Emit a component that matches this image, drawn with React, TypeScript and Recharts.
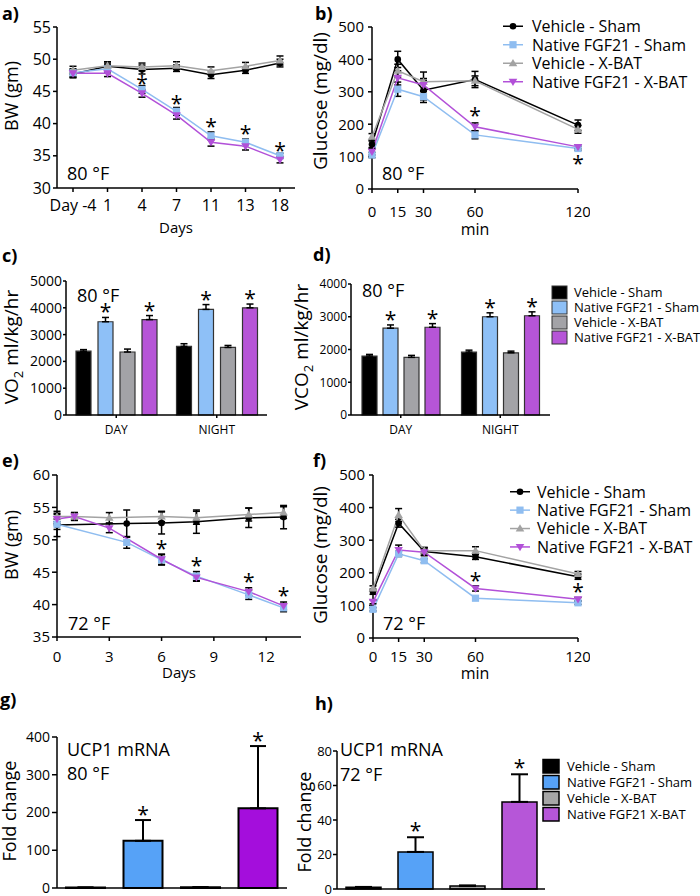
import {
  LineChart,
  Line,
  BarChart,
  Bar,
  Cell,
  XAxis,
  YAxis,
  ErrorBar,
  ReferenceDot,
  LabelList,
} from "recharts";

const FONT = '"Open Sans", sans-serif';
const INK = "#000";
const AX = { stroke: INK, strokeWidth: 1.5 };
const STAR_FS = 21;
const STAR_DY = 12;

const GROUPS = ["Vehicle - Sham", "Native FGF21 - Sham", "Vehicle - X-BAT", "Native FGF21 - X-BAT"];
const GROUPS_H = ["Vehicle - Sham", "Native FGF21 - Sham", "Vehicle - X-BAT", "Native FGF21 X-BAT"];
const KEYS = ["vs", "fs", "vx", "fx"];
const SHAPES = ["circle", "square", "triangle", "triangleDown"];
const LINE_COLORS = ["#000000", "#8fbdf0", "#a3a3a3", "#b250d8"];
const BAR_COLORS_CD = ["#000000", "#8ec0f7", "#a3a3a7", "#b655d7"];
const BAR_COLORS_G = ["#000000", "#56a2f7", "#a6a6a6", "#a40edc"];
const BAR_COLORS_H = ["#000000", "#56a2f7", "#a6a6a6", "#b656d8"];

// a) body weight, 80 °F
const daysA = ["Day -4", "1", "4", "7", "11", "13", "18"];
const bwA = [
  [47.7, 48.9, 48.4, 48.6, 47.6, 48.3, 49.4],
  [47.9, 48.5, 45.3, 41.9, 38.1, 37.1, 35.0],
  [48.3, 49.0, 48.8, 49.0, 48.2, 48.9, 49.8],
  [47.8, 47.8, 44.7, 41.3, 37.1, 36.5, 34.4],
];
const bwASem = [
  [0.6, 0.5, 0.7, 0.5, 0.6, 0.5, 0.6],
  [0.6, 0.6, 0.6, 0.6, 0.6, 0.5, 0.4],
  [0.6, 0.6, 0.6, 0.6, 0.6, 0.6, 0.7],
  [0.6, 0.5, 0.6, 0.6, 0.6, 0.6, 0.5],
];
const starsA = [
  { x: "4", y: 46.9 },
  { x: "7", y: 43.8 },
  { x: "11", y: 40.3 },
  { x: "13", y: 39.2 },
  { x: "18", y: 36.5 },
];

// b) glucose tolerance, 80 °F
const minutes = [0, 15, 30, 60, 120];
const glucB = [
  [138, 400, 305, 338, 197],
  [105, 308, 285, 167, 125],
  [161, 365, 331, 334, 184],
  [115, 343, 321, 192, 130],
];
const glucBSem = [
  [10, 25, 30, 25, 16],
  [8, 22, 18, 12, 6],
  [10, 20, 30, 15, 12],
  [10, 22, 20, 12, 6],
];
const starsB = [
  { x: 60, y: 241 },
  { x: 120, y: 93 },
];

// c) VO2 and d) VCO2, 80 °F
const periods = ["DAY", "NIGHT"];
const vo2 = [
  [2380, 2560],
  [3480, 3940],
  [2350, 2520],
  [3560, 4000],
];
const vo2Sem = [
  [60, 100],
  [160, 180],
  [110, 75],
  [150, 140],
];
const vco2 = [
  [1800, 1920],
  [2650, 3000],
  [1760, 1900],
  [2680, 3030],
];
const vco2Sem = [
  [50, 60],
  [100, 120],
  [60, 50],
  [110, 120],
];
const sigCD = [false, true, false, true];

// e) body weight, 72 °F
const daysE = [0, 1, 3, 4, 6, 8, 11, 13];
const bwE = [
  [52.3, null, null, 52.5, 52.6, 52.8, 53.4, 53.5],
  [52.4, null, null, 49.6, 46.9, 44.4, 41.5, 39.5],
  [53.6, 53.6, 53.4, null, 53.6, 53.4, 53.9, 54.2],
  [53.2, 53.6, 51.8, null, 47.0, 44.2, 42.0, 39.8],
];
const bwESem = [
  [1.8, null, null, 2.1, 1.7, 1.8, 1.5, 1.8],
  [0.8, null, null, 0.9, 0.8, 0.7, 0.7, 0.6],
  [0.8, 0.6, 0.8, null, 0.8, 1.0, 1.0, 0.9],
  [0.7, 0.6, 0.7, null, 0.8, 0.6, 0.6, 0.6],
];
const starsE = [
  { x: 6, y: 49.35 },
  { x: 8, y: 46.7 },
  { x: 11, y: 44.2 },
  { x: 13, y: 42.1 },
];

// f) glucose tolerance, 72 °F
const glucF = [
  [142, 352, 265, 249, 188],
  [88, 258, 237, 122, 108],
  [152, 377, 268, 268, 196],
  [111, 270, 263, 152, 119],
];
const glucFSem = [
  [8, 12, 12, 8, 8],
  [5, 8, 6, 6, 5],
  [8, 20, 10, 12, 8],
  [6, 15, 10, 8, 5],
];
const starsF = [
  { x: 60, y: 190 },
  { x: 120, y: 155 },
];

// g) h) UCP1 mRNA fold change
const ucp80 = [1, 125, 2, 211];
const ucp80Sem = [0.5, 55, 0.5, 165];
const ucp72 = [1.0, 21.5, 1.7, 50.5];
const ucp72Sem = [0.2, 8.5, 0.4, 16];
const sigGH = [false, true, false, true];

function lineRows(xKey: string, xs: any[], means: any[][], sems: any[][]) {
  return xs.map((x, i) => {
    const row: any = { [xKey]: x };
    KEYS.forEach((k, s) => {
      row[k] = means[s][i];
      row[k + "E"] = sems[s][i];
    });
    return row;
  });
}

function barRows(xKey: string, xs: any[], means: number[][], sems: number[][]) {
  return xs.map((x, i) => {
    const row: any = { [xKey]: x };
    KEYS.forEach((k, s) => {
      row[k] = means[s][i];
      row[k + "E"] = [0, sems[s][i]];
    });
    return row;
  });
}

const dataA = lineRows("day", daysA, bwA, bwASem);
const dataB = lineRows("t", minutes, glucB, glucBSem);
const dataC = barRows("period", periods, vo2, vo2Sem);
const dataD = barRows("period", periods, vco2, vco2Sem);
const dataE = lineRows("day", daysE, bwE, bwESem);
const dataF = lineRows("t", minutes, glucF, glucFSem);
const dataG = GROUPS.map((g, i) => ({ group: g, v: ucp80[i], e: [0, ucp80Sem[i]] }));
const dataH = GROUPS_H.map((g, i) => ({ group: g, v: ucp72[i], e: [0, ucp72Sem[i]] }));

function Marker({ shape, cx, cy, color }: any) {
  if (cx == null || cy == null || Number.isNaN(cy)) return null;
  if (shape === "circle") return <circle cx={cx} cy={cy} r={3.3} fill={color} />;
  if (shape === "square") return <rect x={cx - 3.6} y={cy - 3.6} width={7.2} height={7.2} fill={color} />;
  if (shape === "triangle")
    return <path d={`M${cx},${cy - 4.3}L${cx + 4.3},${cy + 3}L${cx - 4.3},${cy + 3}Z`} fill={color} />;
  return <path d={`M${cx},${cy + 4.3}L${cx + 4.3},${cy - 3}L${cx - 4.3},${cy - 3}Z`} fill={color} />;
}

const Star = (p: any) => (
  <text x={p.cx} y={p.cy + STAR_DY} textAnchor="middle" fontSize={STAR_FS} fontFamily={FONT} fill={INK}>
    *
  </text>
);

function renderLines(connectNulls = false) {
  return KEYS.map((k, s) => (
    <Line
      key={k}
      dataKey={k}
      stroke={LINE_COLORS[s]}
      strokeWidth={1.5}
      connectNulls={connectNulls}
      isAnimationActive={false}
      activeDot={false}
      dot={(p: any) => (
        <Marker key={`${k}-${p.index}`} shape={SHAPES[s]} cx={p.cx} cy={p.cy} color={LINE_COLORS[s]} />
      )}
    >
      <ErrorBar dataKey={`${k}E`} width={3.5} stroke={INK} strokeWidth={1.5} direction="y" />
    </Line>
  ));
}

function renderStars(stars: { x: any; y: number }[]) {
  return stars.map((s, i) => (
    <ReferenceDot key={`star-${i}`} x={s.x} y={s.y} r={0} shape={Star} ifOverflow="visible" />
  ));
}

// star sitting above the error bar of a bar
function barStar(means: number[], sems: number[], sig: boolean[], gap: number) {
  return (p: any) => {
    const vb = p.viewBox ?? p;
    const i = p.index ?? means.indexOf(p.value);
    if (i == null || i < 0 || !sig[i] || vb.x == null) return null;
    const h = Math.abs(vb.height);
    const top = Math.min(vb.y, vb.y + vb.height);
    const errTop = top - (sems[i] * h) / means[i];
    return (
      <text
        key={`bs-${i}`}
        x={vb.x + vb.width / 2}
        y={errTop - gap + STAR_DY}
        textAnchor="middle"
        fontSize={STAR_FS}
        fontFamily={FONT}
        fill={INK}
      >
        *
      </text>
    );
  };
}

const tick = (size: number) => ({ fontSize: size, fill: INK, fontFamily: FONT });

function renderBars(data: any[], means: number[][], sems: number[][]) {
  return KEYS.map((k, s) => (
    <Bar
      key={k}
      dataKey={k}
      fill={BAR_COLORS_CD[s]}
      stroke="#333"
      strokeWidth={1.2}
      barSize={15}
      isAnimationActive={false}
    >
      <ErrorBar dataKey={`${k}E`} width={3.5} stroke={INK} strokeWidth={1.5} direction="y" />
      {sigCD[s] && (
        <LabelList dataKey={k} content={barStar(means[s], sems[s], [true, true], 10)} />
      )}
    </Bar>
  ));
}

const T = ({ x, y, size = 18, bold = false, anchor = "start", children }: any) => (
  <text x={x} y={y} fontSize={size} fontWeight={bold ? 700 : 400} textAnchor={anchor}>
    {children}
  </text>
);

const VT = ({ x, y, size = 19, children }: any) => (
  <text transform={`translate(${x},${y}) rotate(-90)`} fontSize={size} textAnchor="middle">
    {children}
  </text>
);

function LineLegend({ x1, x2, tx, y0, step, size }: any) {
  return (
    <g>
      {GROUPS.map((g, i) => {
        const y = y0 + i * step;
        const cy = y - size * 0.36;
        return (
          <g key={g}>
            <line x1={x1} x2={x2} y1={cy} y2={cy} stroke={LINE_COLORS[i]} strokeWidth={1.5} />
            <Marker shape={SHAPES[i]} cx={(x1 + x2) / 2} cy={cy} color={LINE_COLORS[i]} />
            <text x={tx} y={y} fontSize={size}>
              {g}
            </text>
          </g>
        );
      })}
    </g>
  );
}

function BoxLegend({ sx, sw, sh, tx, y0, step, size, names, colors, stroke, sw2 }: any) {
  return (
    <g>
      {names.map((g: string, i: number) => {
        const y = y0 + i * step;
        return (
          <g key={g}>
            <rect x={sx} y={y - sh + 2} width={sw} height={sh} fill={colors[i]} stroke={stroke} strokeWidth={sw2} />
            <text x={tx} y={y} fontSize={size}>
              {g}
            </text>
          </g>
        );
      })}
    </g>
  );
}

function Overlay() {
  return (
    <svg
      width={700}
      height={896}
      style={{ position: "absolute", left: 0, top: 0, pointerEvents: "none" }}
      fontFamily={FONT}
      fill={INK}
    >
      <T x={2} y={19.5} size={18} bold>a)</T>
      <T x={315} y={19.5} size={18} bold>b)</T>
      <T x={2} y={262} size={18} bold>c)</T>
      <T x={313} y={261} size={18} bold>d)</T>
      <T x={2} y={467} size={18} bold>e)</T>
      <T x={313} y={467} size={18} bold>f)</T>
      <T x={0} y={706} size={18} bold>g)</T>
      <T x={315} y={710} size={18} bold>h)</T>

      <VT x={18} y={96} size={18}>BW (gm)</VT>
      <VT x={327} y={101}>Glucose (mg/dl)</VT>
      <VT x={17.5} y={347}>
        <tspan>VO</tspan>
        <tspan dy={5} fontSize={13}>2</tspan>
        <tspan dy={-5}> ml/kg/hr</tspan>
      </VT>
      <VT x={307.5} y={347}>
        <tspan>VCO</tspan>
        <tspan dy={5} fontSize={13}>2</tspan>
        <tspan dy={-5}> ml/kg/hr</tspan>
      </VT>
      <VT x={18} y={545} size={18}>BW (gm)</VT>
      <VT x={327} y={555}>Glucose (mg/dl)</VT>
      <VT x={16} y={811} size={18}>Fold change</VT>
      <VT x={311} y={822} size={18}>Fold change</VT>

      <T x={176} y={233} size={15} anchor="middle">Days</T>
      <T x={475} y={235} size={16} anchor="middle">min</T>
      <T x={179} y={678} size={15} anchor="middle">Days</T>
      <T x={475} y={679} size={16} anchor="middle">min</T>

      <T x={67} y={180}>80 °F</T>
      <T x={382} y={180}>80 °F</T>
      <T x={77} y={302}>80 °F</T>
      <T x={362} y={297}>80 °F</T>
      <T x={68} y={630}>72 °F</T>
      <T x={383} y={630}>72 °F</T>
      <T x={67} y={756}>UCP1 mRNA</T>
      <T x={67} y={780}>80 °F</T>
      <T x={340} y={756}>UCP1 mRNA</T>
      <T x={340} y={781}>72 °F</T>

      <LineLegend x1={503} x2={523} tx={532} y0={32} step={18.5} size={16} />
      <LineLegend x1={510} x2={530} tx={537} y0={497.5} step={18.4} size={16} />
      <BoxLegend
        sx={552} sw={15} sh={13} tx={574} y0={297} step={15} size={13}
        names={GROUPS} colors={BAR_COLORS_CD} stroke="#333" sw2={1}
      />
      <BoxLegend
        sx={543} sw={16} sh={13.5} tx={567} y0={771} step={16} size={13}
        names={GROUPS_H} colors={BAR_COLORS_H} stroke={INK} sw2={1.5}
      />
    </svg>
  );
}

export default function App() {
  return (
    <div
      style={{
        position: "absolute",
        left: 0,
        top: 0,
        width: 700,
        height: 896,
        background: "#fff",
        fontFamily: FONT,
        overflow: "hidden",
      }}
    >
      {/* a) */}
      <div style={{ position: "absolute", left: 0, top: 0 }}>
        <LineChart width={300} height={230} data={dataA} margin={{ top: 27, right: 5, bottom: 0, left: 0 }}>
          <XAxis
            dataKey="day"
            type="category"
            scale="point"
            padding={{ left: 16, right: 15 }}
            height={42}
            axisLine={AX}
            tickLine={AX}
            tickSize={4}
            tickMargin={8}
            interval={0}
            tick={tick(16)}
          />
          <YAxis
            type="number"
            domain={[30, 55]}
            ticks={[30, 35, 40, 45, 50, 55]}
            width={57}
            axisLine={AX}
            tickLine={AX}
            tickSize={4}
            tickMargin={2}
            interval={0}
            tick={tick(16)}
          />
          {renderLines()}
          {renderStars(starsA)}
        </LineChart>
      </div>

      {/* b) */}
      <div style={{ position: "absolute", left: 310, top: 0 }}>
        <LineChart width={280} height={230} data={dataB} margin={{ top: 27, right: 12, bottom: 0, left: 0 }}>
          <XAxis
            dataKey="t"
            type="number"
            domain={[0, 120]}
            ticks={minutes}
            height={41}
            axisLine={AX}
            tickLine={AX}
            tickSize={4}
            tickMargin={13}
            interval={0}
            tick={tick(15)}
          />
          <YAxis
            type="number"
            domain={[0, 500]}
            ticks={[0, 100, 200, 300, 400, 500]}
            width={62}
            axisLine={AX}
            tickLine={AX}
            tickSize={4}
            tickMargin={4}
            interval={0}
            tick={tick(15)}
          />
          {renderLines()}
          {renderStars(starsB)}
        </LineChart>
      </div>

      {/* c) */}
      <div style={{ position: "absolute", left: 0, top: 250 }}>
        <BarChart width={280} height={200} data={dataC} barGap={7} margin={{ top: 31, right: 13, bottom: 0, left: 0 }}>
          <XAxis
            dataKey="period"
            height={35}
            axisLine={AX}
            tickLine={AX}
            tickSize={3}
            tickMargin={7}
            interval={0}
            tick={tick(12)}
          />
          <YAxis
            type="number"
            domain={[0, 5000]}
            ticks={[0, 1000, 2000, 3000, 4000, 5000]}
            width={66}
            axisLine={AX}
            tickLine={AX}
            tickSize={3}
            tickMargin={1}
            interval={0}
            tick={tick(14)}
          />
          {renderBars(dataC, vo2, vo2Sem)}
        </BarChart>
      </div>

      {/* d) */}
      <div style={{ position: "absolute", left: 290, top: 250 }}>
        <BarChart width={270} height={200} data={dataD} barGap={6} margin={{ top: 34, right: 10, bottom: 0, left: 0 }}>
          <XAxis
            dataKey="period"
            height={35}
            axisLine={AX}
            tickLine={AX}
            tickSize={3}
            tickMargin={7}
            interval={0}
            tick={tick(12)}
          />
          <YAxis
            type="number"
            domain={[0, 4000]}
            ticks={[0, 1000, 2000, 3000, 4000]}
            width={61}
            axisLine={AX}
            tickLine={AX}
            tickSize={3}
            tickMargin={1}
            interval={0}
            tick={tick(12)}
          />
          {renderBars(dataD, vco2, vco2Sem)}
        </BarChart>
      </div>

      {/* e) */}
      <div style={{ position: "absolute", left: 0, top: 440 }}>
        <LineChart width={310} height={240} data={dataE} margin={{ top: 35, right: 9, bottom: 0, left: 0 }}>
          <XAxis
            dataKey="day"
            type="number"
            domain={[0, 14]}
            ticks={[0, 3, 6, 9, 12]}
            height={43}
            axisLine={AX}
            tickLine={AX}
            tickSize={4}
            tickMargin={10}
            interval={0}
            tick={tick(15)}
          />
          <YAxis
            type="number"
            domain={[35, 60]}
            ticks={[35, 40, 45, 50, 55, 60]}
            width={57}
            axisLine={AX}
            tickLine={AX}
            tickSize={5}
            tickMargin={2}
            interval={0}
            tick={tick(15)}
          />
          {renderLines(true)}
          {renderStars(starsE)}
        </LineChart>
      </div>

      {/* f) */}
      <div style={{ position: "absolute", left: 310, top: 440 }}>
        <LineChart width={280} height={240} data={dataF} margin={{ top: 35, right: 12, bottom: 0, left: 0 }}>
          <XAxis
            dataKey="t"
            type="number"
            domain={[0, 120]}
            ticks={minutes}
            height={42}
            axisLine={AX}
            tickLine={AX}
            tickSize={4}
            tickMargin={9}
            interval={0}
            tick={tick(15)}
          />
          <YAxis
            type="number"
            domain={[0, 500]}
            ticks={[0, 100, 200, 300, 400, 500]}
            width={63}
            axisLine={AX}
            tickLine={AX}
            tickSize={4}
            tickMargin={4}
            interval={0}
            tick={tick(15)}
          />
          {renderLines()}
          {renderStars(starsF)}
        </LineChart>
      </div>

      {/* g) */}
      <div style={{ position: "absolute", left: 0, top: 700 }}>
        <BarChart width={300} height={196} data={dataG} margin={{ top: 37, right: 13, bottom: 0, left: 0 }}>
          <XAxis dataKey="group" height={8} axisLine={AX} tickLine={false} tick={false} />
          <YAxis
            type="number"
            domain={[0, 400]}
            ticks={[0, 100, 200, 300, 400]}
            width={57}
            axisLine={AX}
            tickLine={AX}
            tickSize={5}
            tickMargin={2}
            interval={0}
            tick={tick(14)}
          />
          <Bar dataKey="v" barSize={39} stroke={INK} strokeWidth={2} isAnimationActive={false}>
            {dataG.map((d, i) => (
              <Cell key={d.group} fill={BAR_COLORS_G[i]} />
            ))}
            <ErrorBar dataKey="e" width={8} stroke={INK} strokeWidth={2} direction="y" />
            <LabelList dataKey="v" content={barStar(ucp80, ucp80Sem, sigGH, 10)} />
          </Bar>
        </BarChart>
      </div>

      {/* h) */}
      <div style={{ position: "absolute", left: 280, top: 700 }}>
        <BarChart width={280} height={196} data={dataH} margin={{ top: 51, right: 15, bottom: 0, left: 0 }}>
          <XAxis dataKey="group" height={7} axisLine={AX} tickLine={false} tick={false} />
          <YAxis
            type="number"
            domain={[0, 80]}
            ticks={[0, 20, 40, 60, 80]}
            width={57}
            axisLine={AX}
            tickLine={AX}
            tickSize={4}
            tickMargin={1}
            interval={0}
            tick={tick(13)}
          />
          <Bar dataKey="v" barSize={35} stroke={INK} strokeWidth={1.5} isAnimationActive={false}>
            {dataH.map((d, i) => (
              <Cell key={d.group} fill={BAR_COLORS_H[i]} />
            ))}
            <ErrorBar dataKey="e" width={8.5} stroke={INK} strokeWidth={2} direction="y" />
            <LabelList dataKey="v" content={barStar(ucp72, ucp72Sem, sigGH, 11)} />
          </Bar>
        </BarChart>
      </div>

      <Overlay />
    </div>
  );
}
